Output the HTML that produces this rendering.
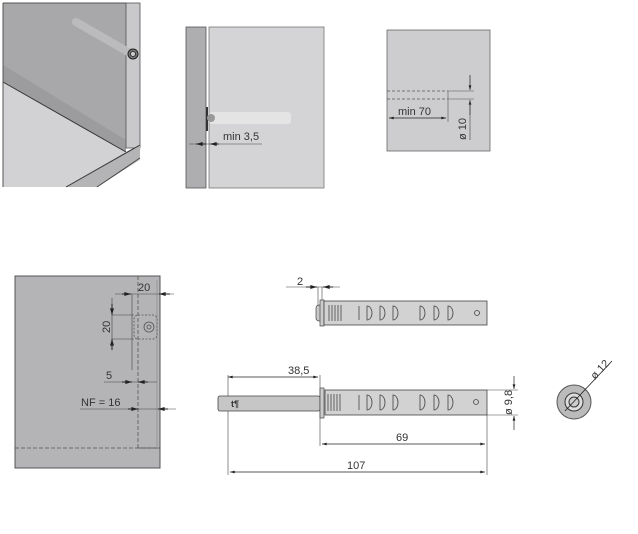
<!DOCTYPE html>
<html><head><meta charset="utf-8"><style>
html,body{margin:0;padding:0;background:#fff;}
svg{display:block;}
text{font-family:"Liberation Sans",sans-serif;fill:#333;}
</style></head><body>
<svg width="638" height="534" viewBox="0 0 638 534" xmlns="http://www.w3.org/2000/svg">
<defs>
<marker id="a" viewBox="0 0 10 6" refX="10" refY="3" markerWidth="7" markerHeight="4" orient="auto-start-reverse"><path d="M0,0L10,3L0,6z" fill="#222"/></marker>
</defs>
<!-- Panel 1 -->
<polygon points="3,82 126,152 140,145 140,160 97,187 3,187" fill="#d2d2d4"/>
<polygon points="3,3 126,3 126,152 3,82" fill="#a8a8aa"/>
<polygon points="3,65 126,140 126,152 3,82" fill="#9c9c9e"/>
<rect x="126" y="3" width="14" height="145" fill="#c9c9cb" stroke="#555" stroke-width="0.8"/>
<line x1="3" y1="82" x2="126" y2="152" stroke="#333" stroke-width="1"/>
<line x1="3" y1="3" x2="3" y2="187" stroke="#555" stroke-width="1"/>
<line x1="3" y1="3" x2="126" y2="3" stroke="#555" stroke-width="1"/>
<polygon points="126,152 140,145 140,158 97,187 66,187" fill="#b4b4b6"/>
<polyline points="66,187 140,145" stroke="#333" stroke-width="1" fill="none"/>
<polyline points="97,187 140,158" stroke="#444" stroke-width="1" fill="none"/>
<line x1="76" y1="22" x2="130" y2="53" stroke="#bbbbbd" stroke-width="8" stroke-linecap="round"/>
<circle cx="133" cy="54" r="5" fill="#777" stroke="#222" stroke-width="1"/>
<circle cx="133" cy="54" r="2.5" fill="#ccc" stroke="#222" stroke-width="0.8"/>
<!-- Panel 2 -->
<rect x="186" y="27" width="20" height="161" fill="#aeaeb0" stroke="#555" stroke-width="0.8"/>
<rect x="209" y="27" width="115" height="161" fill="#d4d4d6" stroke="#777" stroke-width="0.8"/>
<rect x="206" y="107" width="2" height="24" fill="#333"/>
<rect x="209" y="112" width="82" height="12" rx="3" fill="#e4e4e4"/>
<circle cx="211" cy="118" r="4" fill="#999"/>
<line x1="189" y1="144" x2="262" y2="144" stroke="#444" stroke-width="0.6"/>
<line x1="196" y1="144" x2="206" y2="144" stroke="#222" marker-start="url(#a)"/>
<line x1="210" y1="144" x2="219" y2="144" stroke="#222" marker-start="url(#a)"/>
<text x="223" y="140" font-size="11">min 3,5</text>
<!-- Panel 3 -->
<rect x="387" y="30" width="103" height="121" fill="#cdcdcf" stroke="#666" stroke-width="0.8"/>
<line x1="387" y1="91" x2="448" y2="91" stroke="#555" stroke-dasharray="3,2" stroke-width="0.8"/>
<line x1="387" y1="99" x2="448" y2="99" stroke="#555" stroke-dasharray="3,2" stroke-width="0.8"/>
<line x1="448" y1="91" x2="448" y2="122" stroke="#555" stroke-width="0.6"/>
<line x1="448" y1="91" x2="474" y2="91" stroke="#555" stroke-width="0.6"/>
<line x1="448" y1="99" x2="474" y2="99" stroke="#555" stroke-width="0.6"/>
<line x1="389" y1="118" x2="446" y2="118" stroke="#222" stroke-width="0.7" marker-start="url(#a)" marker-end="url(#a)"/>
<text x="398" y="115" font-size="11">min 70</text>
<line x1="470" y1="75" x2="470" y2="90" stroke="#222" stroke-width="0.7" marker-end="url(#a)"/>
<line x1="470" y1="115" x2="470" y2="100" stroke="#222" stroke-width="0.7" marker-end="url(#a)"/>
<line x1="470" y1="100" x2="470" y2="140" stroke="#444" stroke-width="0.6"/>
<text x="0" y="0" font-size="11" transform="translate(466,140) rotate(-90)">ø 10</text>
<!-- Panel 4 -->
<rect x="15" y="276" width="145" height="192" fill="#b4b4b6" stroke="#555" stroke-width="1"/>
<line x1="138" y1="276" x2="138" y2="448" stroke="#555" stroke-dasharray="4,2" stroke-width="0.8"/>
<line x1="15" y1="448" x2="160" y2="448" stroke="#555" stroke-dasharray="4,2" stroke-width="0.8"/>
<line x1="138" y1="448" x2="160" y2="448" stroke="#555" stroke-width="0.8"/>
<line x1="157" y1="280" x2="157" y2="448" stroke="#999" stroke-width="1"/>
<rect x="134" y="315" width="23" height="24" rx="4" fill="none" stroke="#555" stroke-dasharray="2,1.5" stroke-width="0.8"/>
<circle cx="149" cy="327" r="5" fill="none" stroke="#555" stroke-width="0.8"/>
<circle cx="149" cy="327" r="2" fill="none" stroke="#555" stroke-width="0.8"/>
<line x1="132" y1="294" x2="132" y2="370" stroke="#444" stroke-width="0.6"/>
<line x1="115" y1="294" x2="174" y2="294" stroke="#444" stroke-width="0.6"/>
<line x1="122" y1="294" x2="131" y2="294" stroke="#222" marker-end="url(#a)"/>
<line x1="170" y1="294" x2="159" y2="294" stroke="#222" marker-end="url(#a)"/>
<text x="138" y="291" font-size="11">20</text>
<line x1="112" y1="298" x2="112" y2="349" stroke="#444" stroke-width="0.6"/>
<line x1="112" y1="315" x2="134" y2="315" stroke="#444" stroke-width="0.6"/>
<line x1="112" y1="339" x2="134" y2="339" stroke="#444" stroke-width="0.6"/>
<line x1="112" y1="304" x2="112" y2="315" stroke="#222" marker-end="url(#a)"/>
<line x1="112" y1="350" x2="112" y2="339" stroke="#222" marker-end="url(#a)"/>
<text x="0" y="0" font-size="11" transform="translate(110,333) rotate(-90)">20</text>
<line x1="104" y1="382" x2="157" y2="382" stroke="#444" stroke-width="0.6"/>
<line x1="122" y1="382" x2="132" y2="382" stroke="#222" marker-end="url(#a)"/>
<line x1="148" y1="382" x2="138" y2="382" stroke="#222" marker-end="url(#a)"/>
<text x="106" y="379" font-size="11">5</text>
<line x1="80" y1="409" x2="176" y2="409" stroke="#444" stroke-width="0.6"/>
<line x1="128" y1="409" x2="138" y2="409" stroke="#222" marker-end="url(#a)"/>
<line x1="168" y1="409" x2="158" y2="409" stroke="#222" marker-end="url(#a)"/>
<text x="81" y="406" font-size="11">NF = 16</text>
<!-- Top pusher -->
<g>
<line x1="286" y1="287" x2="340" y2="287" stroke="#444" stroke-width="0.6"/>
<line x1="318" y1="287" x2="318" y2="320" stroke="#444" stroke-width="0.6"/>
<line x1="322" y1="287" x2="322" y2="300" stroke="#444" stroke-width="0.6"/>
<line x1="306" y1="287" x2="317" y2="287" stroke="#222" marker-end="url(#a)"/>
<line x1="333" y1="287" x2="323" y2="287" stroke="#222" marker-end="url(#a)"/>
<text x="297" y="285" font-size="11">2</text>
<rect x="316" y="305" width="6" height="16" rx="3" fill="#c8c8c8" stroke="#444" stroke-width="0.7"/>
<rect x="320" y="300" width="4" height="26" fill="#ccc" stroke="#444" stroke-width="0.7"/>
<rect x="324" y="301" width="163" height="24" fill="#d2d2d2" stroke="#444" stroke-width="0.8"/>
<g stroke="#444" stroke-width="0.8" fill="none">
<line x1="329" y1="305" x2="329" y2="321"/><line x1="332" y1="305" x2="332" y2="321"/><line x1="335" y1="305" x2="335" y2="321"/><line x1="338" y1="305" x2="338" y2="321"/><line x1="341" y1="305" x2="341" y2="321"/>
<line x1="359" y1="306" x2="359" y2="320"/>
<path d="M367,306 a5,7 0 0 1 0,14z"/><path d="M380,306 a5,7 0 0 1 0,14z"/><path d="M393,306 a5,7 0 0 1 0,14z"/>
<path d="M420,306 a5,7 0 0 1 0,14z"/><path d="M434,306 a5,7 0 0 1 0,14z"/><path d="M448,306 a5,7 0 0 1 0,14z"/>
<circle cx="477" cy="313" r="2.5"/>
</g>
</g>
<!-- Bottom pusher -->
<g>
<line x1="228" y1="377" x2="318" y2="377" stroke="#222" stroke-width="0.7" marker-start="url(#a)" marker-end="url(#a)"/>
<line x1="228" y1="375" x2="228" y2="475" stroke="#444" stroke-width="0.6"/>
<line x1="320" y1="375" x2="320" y2="446" stroke="#444" stroke-width="0.6"/>
<text x="288" y="374" font-size="11">38,5</text>
<rect x="218" y="396" width="102" height="15" rx="2" fill="#c6c6c6" stroke="#444" stroke-width="0.8"/>
<text x="231" y="407" font-size="9" font-weight="bold" fill="#222">t¶</text>
<rect x="320" y="388" width="4" height="30" fill="#ccc" stroke="#444" stroke-width="0.7"/>
<rect x="325" y="390" width="162" height="25" fill="#d2d2d2" stroke="#444" stroke-width="0.8"/>
<g stroke="#444" stroke-width="0.8" fill="none">
<line x1="328" y1="394" x2="328" y2="411"/><line x1="331" y1="394" x2="331" y2="411"/><line x1="334" y1="394" x2="334" y2="411"/><line x1="337" y1="394" x2="337" y2="411"/><line x1="340" y1="394" x2="340" y2="411"/>
<line x1="359" y1="395" x2="359" y2="410"/>
<path d="M367,395 a5,7.5 0 0 1 0,15z"/><path d="M380,395 a5,7.5 0 0 1 0,15z"/><path d="M393,395 a5,7.5 0 0 1 0,15z"/>
<path d="M420,395 a5,7.5 0 0 1 0,15z"/><path d="M434,395 a5,7.5 0 0 1 0,15z"/><path d="M448,395 a5,7.5 0 0 1 0,15z"/>
<circle cx="476" cy="402" r="2.5"/>
</g>
<line x1="487" y1="390" x2="518" y2="390" stroke="#444" stroke-width="0.6"/>
<line x1="487" y1="415" x2="518" y2="415" stroke="#444" stroke-width="0.6"/>
<line x1="514" y1="376" x2="514" y2="389" stroke="#222" stroke-width="0.7" marker-end="url(#a)"/>
<line x1="514" y1="430" x2="514" y2="416" stroke="#222" stroke-width="0.7" marker-end="url(#a)"/>
<text x="0" y="0" font-size="11" transform="translate(512,415) rotate(-90)">ø 9,8</text>
<line x1="487" y1="415" x2="487" y2="475" stroke="#444" stroke-width="0.6"/>
<line x1="322" y1="444" x2="485" y2="444" stroke="#222" stroke-width="0.7" marker-start="url(#a)" marker-end="url(#a)"/>
<text x="396" y="441" font-size="11">69</text>
<line x1="230" y1="472" x2="485" y2="472" stroke="#222" stroke-width="0.7" marker-start="url(#a)" marker-end="url(#a)"/>
<text x="347" y="469" font-size="11">107</text>
</g>
<!-- Round -->
<circle cx="574" cy="402" r="17" fill="#bbb" stroke="#555" stroke-width="1"/>
<circle cx="574" cy="402" r="9" fill="#ddd" stroke="#333" stroke-width="1"/>
<circle cx="574" cy="402" r="5" fill="#ccc" stroke="#333" stroke-width="1"/>
<line x1="565" y1="411" x2="612" y2="361" stroke="#222" stroke-width="0.8"/>
<text x="0" y="0" font-size="11" transform="translate(595,380) rotate(-47)">ø 12</text>
</svg>
</body></html>
